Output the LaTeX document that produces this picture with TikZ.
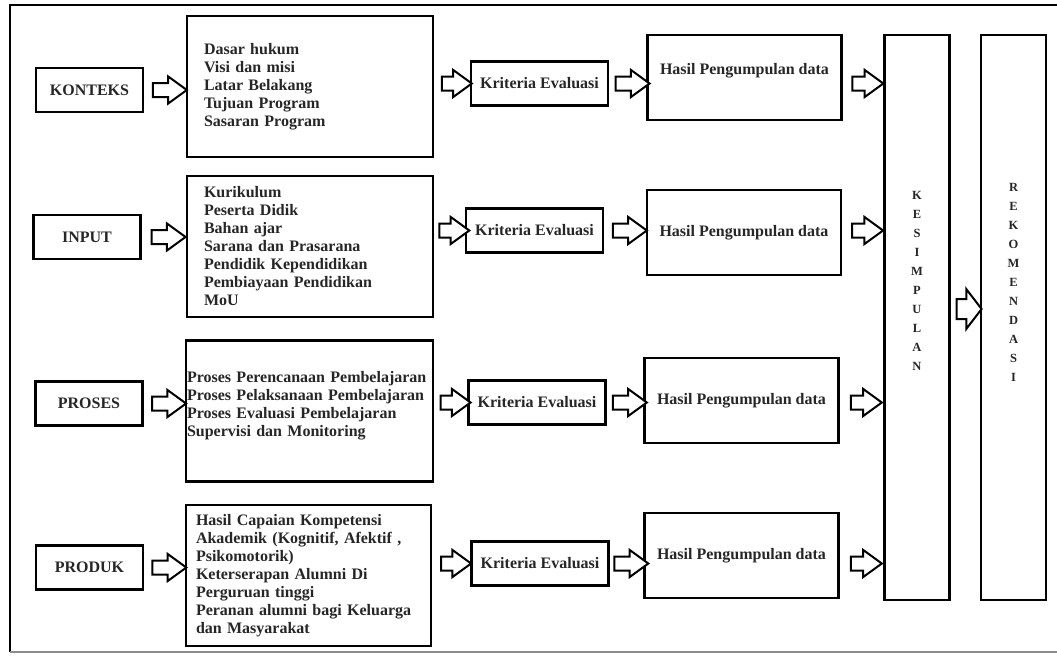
\documentclass[tikz,border=0pt]{standalone}
\usepackage{fontspec}
\setmainfont{Liberation Serif}
\usetikzlibrary{positioning}
\usetikzlibrary{shapes.arrows}

\begin{document}
\begin{tikzpicture}[
    x=1pt, y=-1pt,
    every node/.style={font=\bfseries\fontsize{16}{18}\selectfont, text=black!85},
    lbox/.style={draw, line width=2.4pt, inner sep=0, minimum width=107pt, minimum height=44pt},
    ibox/.style={draw, line width=2.4pt, inner ysep=0, align=left, minimum height=141pt},
    kbox/.style={draw, line width=2.4pt, inner sep=0, minimum width=137pt, minimum height=44pt},
    hbox/.style={draw, line width=2.4pt, inner sep=0, minimum width=194pt, minimum height=85pt},
    vbox/.style={draw, line width=2.4pt, inner sep=0, minimum width=65pt, minimum height=565pt},
    vtext/.style={font=\bfseries\fontsize{12.5}{19}\selectfont, align=center, inner sep=0},
    barrow/.style={single arrow, draw=black, fill=white, line width=2pt, inner xsep=0, inner ysep=6pt,
        minimum height=34pt, single arrow head extend=6.5pt, single arrow tip angle=72}
]
\useasboundingbox (0,0) rectangle (1057,656);

% Frame
\draw[line width=2.5pt] (1057,5) -- (10,5) -- (10,652);
\draw[black!45, line width=1.5pt] (10,652) -- (1057,652);

% Kesimpulan, Rekomendasi
\node[vbox] (simpul) at (917,317.5) {};
\node[vbox] (rekom) at (1013.5,317.5) {};
\node[vtext] (simpultxt) at ([yshift=37pt]simpul.center) {K\\E\\S\\I\\M\\P\\U\\L\\A\\N};
\node[vtext] (rekomtxt) at ([yshift=35pt]rekom.center) {R\\E\\K\\O\\M\\E\\N\\D\\A\\S\\I};
\path (simpul.east |- 0,309) -- node[barrow, minimum height=25pt, inner ysep=9pt, single arrow head extend=10pt, single arrow tip angle=105] {} (rekom.west |- 0,309);

% Konteks
\node[lbox] (konteks) at (89.5,90) {KONTEKS};
\node[ibox, text width=212pt, inner xsep=17pt] (isi1) at (310,86.5) {Dasar hukum\\Visi dan misi\\Latar Belakang\\Tujuan Program\\Sasaran Program};
\node[kbox] (krit1) at (539.5,83.5) {Kriteria Evaluasi};
\node[hbox, text depth=18pt] (hasil1) at (744.5,77.5) {Hasil Pengumpulan data};
\path (konteks.east) -- node[barrow] {} (konteks.east -| isi1.west);
\path (isi1.east |- krit1) -- node[barrow, minimum height=30pt] {} (krit1.west);
\path (krit1.east) -- node[barrow] {} (hasil1.west |- krit1);
\path (hasil1.east |- krit1) -- node[barrow, minimum height=31pt] {} (simpul.west |- krit1);

% Input
\node[lbox] (input) at (87,237) {INPUT};
\node[ibox, text width=212pt, inner xsep=17pt] (isi2) at (310,246.5) {Kurikulum\\Peserta Didik\\Bahan ajar\\Sarana dan Prasarana\\Pendidik Kependidikan\\Pembiayaan Pendidikan\\MoU};
\node[kbox] (krit2) at (534.5,230.5) {Kriteria Evaluasi};
\node[hbox] (hasil2) at (744,232.5) {Hasil Pengumpulan data};
\path (input.east) -- node[barrow] {} (input.east -| isi2.west);
\path (isi2.east |- krit2) -- node[barrow, minimum height=30pt] {} (krit2.west);
\path (krit2.east) -- node[barrow] {} (hasil2.west |- krit2);
\path (hasil2.east |- krit2) -- node[barrow, minimum height=31pt] {} (simpul.west |- krit2);

% Proses
\node[lbox] (proses) at (89,403.5) {PROSES};
\node[ibox, text width=245pt, inner xsep=1pt, text depth=68pt] (isi3) at (309.5,411) {Proses Perencanaan Pembelajaran\\Proses Pelaksanaan Pembelajaran\\Proses Evaluasi Pembelajaran\\Supervisi dan Monitoring};
\node[kbox] (krit3) at (537,402.5) {Kriteria Evaluasi};
\node[hbox] (hasil3) at (741.5,400.5) {Hasil Pengumpulan data};
\path (proses.east) -- node[barrow] {} (proses.east -| isi3.west);
\path (isi3.east |- krit3) -- node[barrow, minimum height=30pt] {} (krit3.west);
\path (krit3.east) -- node[barrow] {} (hasil3.west |- krit3);
\path (hasil3.east |- krit3) -- node[barrow, minimum height=31pt] {} (simpul.west |- krit3);

% Produk
\node[lbox] (produk) at (89.5,567.5) {PRODUK};
\node[ibox, text width=225pt, inner xsep=10pt] (isi4) at (308.5,575.5) {Hasil Capaian Kompetensi\\Akademik (Kognitif, Afektif ,\\Psikomotorik)\\Keterserapan Alumni Di\\Perguruan tinggi\\Peranan alumni bagi Keluarga\\dan Masyarakat};
\node[kbox] (krit4) at (540,563.5) {Kriteria Evaluasi};
\node[hbox] (hasil4) at (741.5,555.5) {Hasil Pengumpulan data};
\path (produk.east) -- node[barrow] {} (produk.east -| isi4.west);
\path (isi4.east |- krit4) -- node[barrow, minimum height=30pt] {} (krit4.west);
\path (krit4.east) -- node[barrow] {} (hasil4.west |- krit4);
\path (hasil4.east |- krit4) -- node[barrow, minimum height=31pt] {} (simpul.west |- krit4);

\end{tikzpicture}
\end{document}
